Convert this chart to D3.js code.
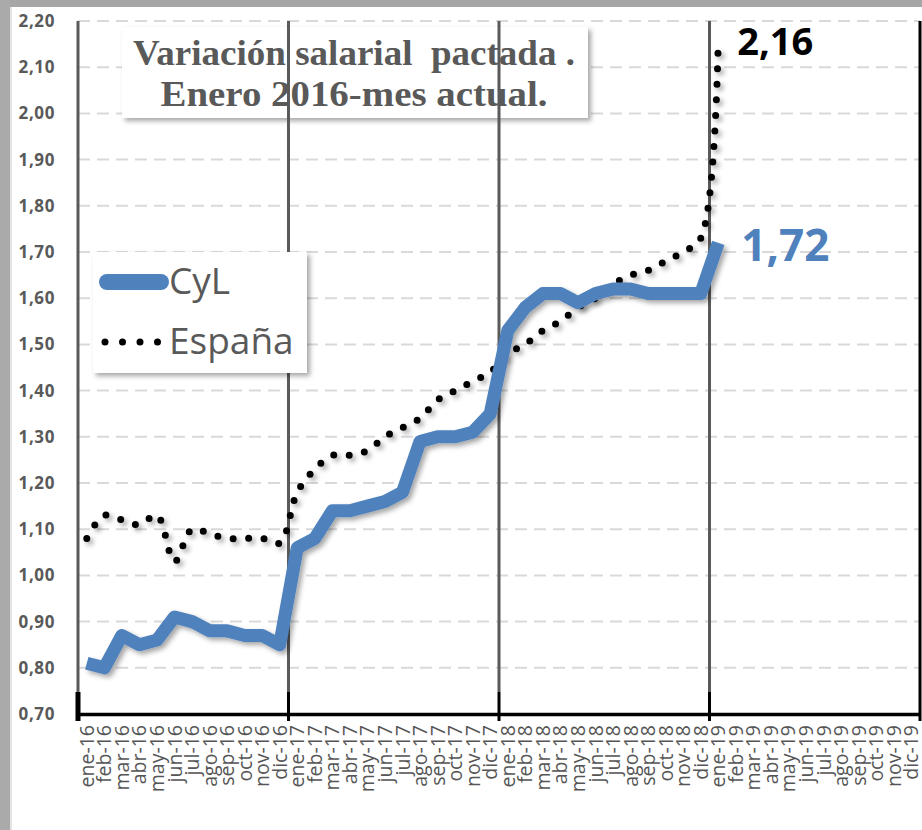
<!DOCTYPE html>
<html>
<head>
<meta charset="utf-8">
<script src="https://cdn.jsdelivr.net/npm/d3@7"></script>
<style>
  body { margin: 0; background: #fff; }
  text { font-family: "Open Sans", sans-serif; }
</style>
</head>
<body>
<div id="chart"></div>
<script>
/* data */
const months = [
  "ene-16","feb-16","mar-16","abr-16","may-16","jun-16","jul-16","ago-16","sep-16","oct-16","nov-16","dic-16",
  "ene-17","feb-17","mar-17","abr-17","may-17","jun-17","jul-17","ago-17","sep-17","oct-17","nov-17","dic-17",
  "ene-18","feb-18","mar-18","abr-18","may-18","jun-18","jul-18","ago-18","sep-18","oct-18","nov-18","dic-18",
  "ene-19","feb-19","mar-19","abr-19","may-19","jun-19","jul-19","ago-19","sep-19","oct-19","nov-19","dic-19"
];
const yearStarts = ["ene-16", "ene-17", "ene-18", "ene-19"];
const yTicks = [0.7, 0.8, 0.9, 1.0, 1.1, 1.2, 1.3, 1.4, 1.5, 1.6, 1.7, 1.8, 1.9, 2.0, 2.1, 2.2];

// CyL, ene-16 .. ene-19
const cyl = [
  0.81, 0.80, 0.87, 0.85, 0.86, 0.91, 0.90, 0.88, 0.88, 0.87, 0.87, 0.85,
  1.06, 1.08, 1.14, 1.14, 1.15, 1.16, 1.18, 1.29, 1.30, 1.30, 1.31, 1.35,
  1.53, 1.58, 1.61, 1.61, 1.59, 1.61, 1.62, 1.62, 1.61, 1.61, 1.61, 1.61,
  1.72
];
// España, ene-16 .. ene-19
const espana = [
  1.08, 1.13, 1.12, 1.11, 1.13, 1.03, 1.10, 1.09, 1.08, 1.08, 1.08, 1.07,
  1.18, 1.23, 1.26, 1.26, 1.27, 1.30, 1.32, 1.34, 1.38, 1.40, 1.42, 1.44,
  1.48, 1.50, 1.53, 1.55, 1.58, 1.60, 1.63, 1.65, 1.66, 1.68, 1.70, 1.73,
  2.16
];

const width = 922, height = 830;
const plot = { left: 78, right: 920, top: 21, bottom: 714 };
const blue = "#4f81bd", grey = "#595959";
const fmt = v => d3.format(".2f")(v).replace(".", ",");

const svg = d3.select("#chart").append("svg")
  .attr("width", width)
  .attr("height", height);

const filter = svg.append("defs").append("filter")
  .attr("id", "shadow")
  .attr("x", "-20%").attr("y", "-20%")
  .attr("width", "140%").attr("height", "140%");
filter.append("feDropShadow")
  .attr("dx", 3).attr("dy", 3)
  .attr("stdDeviation", 2.5)
  .attr("flood-color", "#000")
  .attr("flood-opacity", 0.35);

// frame
svg.append("rect").attr("x", 0).attr("y", 0).attr("width", width).attr("height", 7).attr("fill", "#a6a6a6");
svg.append("rect").attr("x", 0).attr("y", 0).attr("width", 10).attr("height", height).attr("fill", "#aaaaaa");
svg.append("rect").attr("x", 10).attr("y", 7).attr("width", 2).attr("height", height).attr("fill", "#e4e4e4");

const x = d3.scaleBand().domain(months).range([plot.left, plot.right]);
const y = d3.scaleLinear().domain([0.7, 2.2]).range([plot.bottom, plot.top]);
const cx = i => x(months[i]) + x.bandwidth() / 2;

// horizontal dashed grid
svg.append("g")
  .selectAll("line")
  .data(yTicks.slice(1))
  .join("line")
  .attr("x1", plot.left).attr("x2", plot.right)
  .attr("y1", d => y(d)).attr("y2", d => y(d))
  .attr("stroke", "#d9d9d9")
  .attr("stroke-width", 2)
  .attr("stroke-dasharray", "12 7");

// title box (sits under the year lines)
const title = svg.append("g");
title.append("rect")
  .attr("x", 122).attr("y", 27)
  .attr("width", 466).attr("height", 91)
  .attr("fill", "#fff")
  .attr("filter", "url(#shadow)");
title.selectAll("text")
  .data([["Variación salarial  pactada .", 65, 442], ["Enero 2016-mes actual.", 106, 387]])
  .join("text")
  .attr("x", 354).attr("y", d => d[1])
  .attr("text-anchor", "middle")
  .attr("textLength", d => d[2])
  .attr("lengthAdjust", "spacingAndGlyphs")
  .style("white-space", "pre")
  .style("font-family", "'Liberation Serif', serif")
  .style("font-weight", "bold")
  .style("font-size", "36px")
  .attr("fill", grey)
  .text(d => d[0]);

// year separators
const yl = svg.append("g");
yl.selectAll("line.sep")
  .data(yearStarts)
  .join("line")
  .attr("class", "sep")
  .attr("x1", d => x(d)).attr("x2", d => x(d))
  .attr("y1", plot.top).attr("y2", 692)
  .attr("stroke", "#5a5a5a")
  .attr("stroke-width", 3);
yl.selectAll("line.tk")
  .data(yearStarts)
  .join("line")
  .attr("class", "tk")
  .attr("x1", d => x(d)).attr("x2", d => x(d))
  .attr("y1", 692).attr("y2", 721)
  .attr("stroke", "#000")
  .attr("stroke-width", (d, i) => i === 0 ? 5 : 3);
yl.append("line")
  .attr("x1", plot.right).attr("x2", plot.right)
  .attr("y1", plot.top).attr("y2", 721)
  .attr("stroke", "#000")
  .attr("stroke-width", 3);

// x axis
const xAxisGroup = svg.append("g")
  .attr("transform", `translate(0,${plot.bottom})`)
  .call(d3.axisBottom(x).tickSize(0).tickSizeOuter(0));
xAxisGroup.select(".domain").attr("stroke", "#000").attr("stroke-width", 3.5);
xAxisGroup.selectAll("text")
  .attr("transform", "rotate(-90)")
  .attr("x", -11).attr("y", 0)
  .attr("dy", "0.36em")
  .attr("text-anchor", "end")
  .attr("fill", "#555")
  .style("font-size", "19.5px")
  .style("font-family", "'Open Sans', sans-serif");

// y axis
const yAxisGroup = svg.append("g")
  .attr("transform", `translate(${plot.left},0)`)
  .call(d3.axisLeft(y).tickValues(yTicks).tickFormat(fmt).tickSize(0).tickPadding(23));
yAxisGroup.select(".domain").remove();
yAxisGroup.selectAll("text")
  .attr("fill", grey)
  .style("font-size", "17px")
  .style("font-weight", "bold")
  .style("letter-spacing", "0.6px")
  .style("font-family", "'Open Sans', sans-serif");

// series
const cylLine = d3.line().x((d, i) => cx(i)).y(d => y(d));
const espLine = d3.line().x((d, i) => cx(i)).y(d => y(d)).curve(d3.curveCatmullRom.alpha(0.5));

svg.append("path")
  .datum(espana)
  .attr("d", espLine)
  .attr("fill", "none")
  .attr("stroke", "#000")
  .attr("stroke-width", 7)
  .attr("stroke-linecap", "round")
  .attr("stroke-dasharray", "0 15.5")
  .attr("filter", "url(#shadow)");

svg.append("path")
  .datum(cyl)
  .attr("d", cylLine)
  .attr("fill", "none")
  .attr("stroke", blue)
  .attr("stroke-width", 13)
  .attr("stroke-linejoin", "round")
  .attr("filter", "url(#shadow)");

// end labels
const last = cyl.length - 1;
svg.append("text")
  .attr("x", cx(last) + 19).attr("y", 55)
  .attr("fill", "#000")
  .style("font-size", "38px")
  .style("font-weight", "bold")
  .text(fmt(espana[last]));
svg.append("text")
  .attr("x", cx(last) + 23).attr("y", 261)
  .attr("fill", blue)
  .style("font-size", "44px")
  .style("font-weight", "bold")
  .text(fmt(cyl[last]));

// legend
const legend = svg.append("g");
legend.append("rect")
  .attr("x", 93).attr("y", 252)
  .attr("width", 214).attr("height", 121)
  .attr("fill", "#fff")
  .attr("filter", "url(#shadow)");
legend.append("line")
  .attr("x1", 107).attr("x2", 161)
  .attr("y1", 282).attr("y2", 282)
  .attr("stroke", blue)
  .attr("stroke-width", 16)
  .attr("stroke-linecap", "round");
legend.append("line")
  .attr("x1", 105).attr("x2", 158)
  .attr("y1", 342).attr("y2", 342)
  .attr("stroke", "#000")
  .attr("stroke-width", 7)
  .attr("stroke-linecap", "round")
  .attr("stroke-dasharray", "0 17.5");
legend.selectAll("text")
  .data([["CyL", 294], ["España", 354]])
  .join("text")
  .attr("x", 169).attr("y", d => d[1])
  .attr("fill", grey)
  .style("font-size", "37px")
  .text(d => d[0]);
</script>
</body>
</html>
